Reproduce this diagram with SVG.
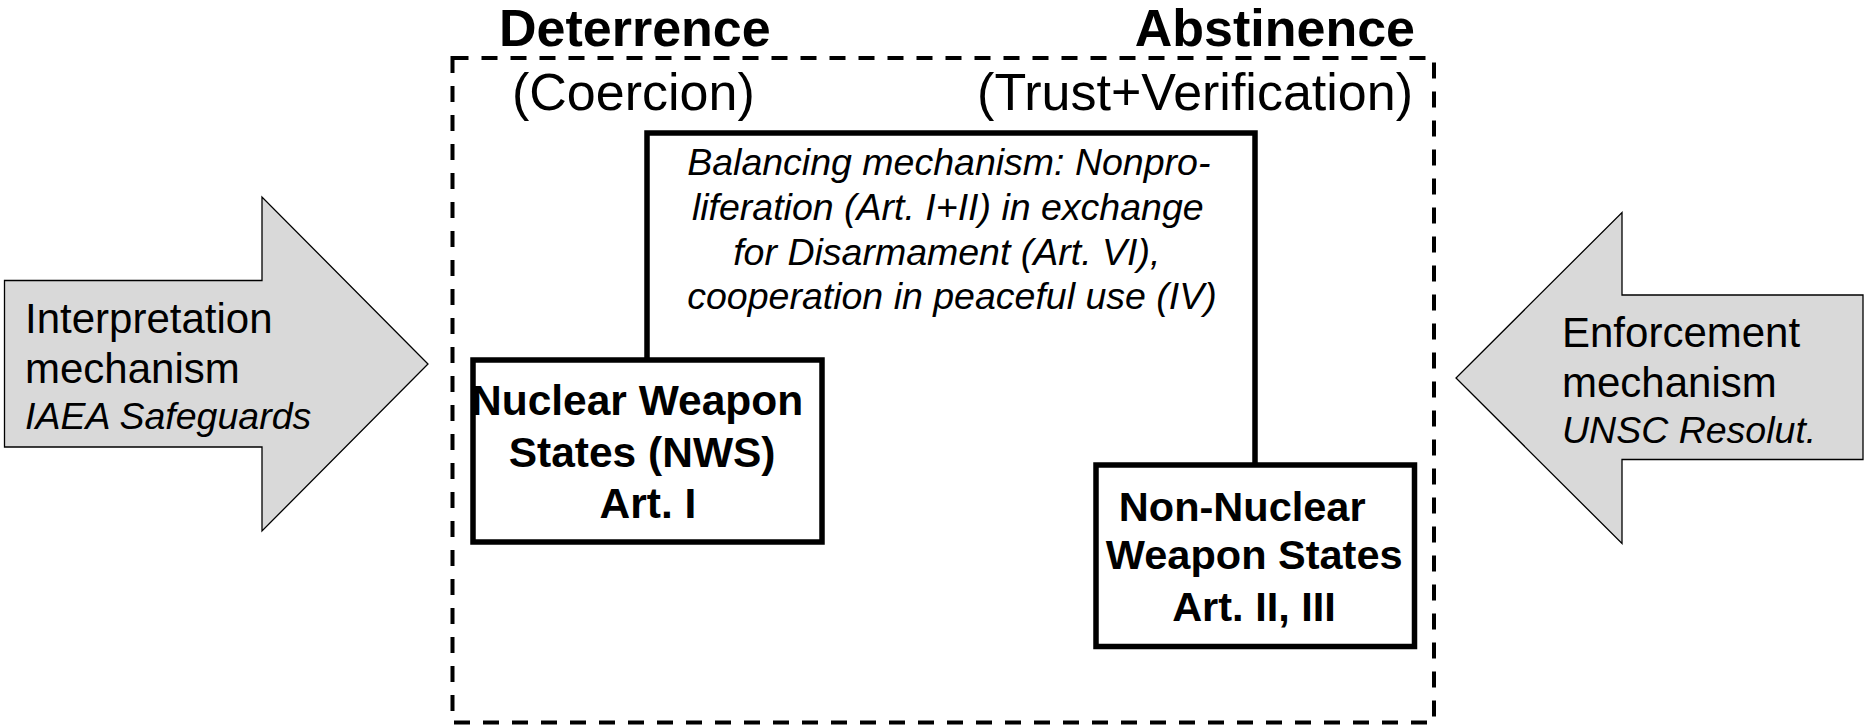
<svg xmlns="http://www.w3.org/2000/svg" width="1864" height="728" viewBox="0 0 1864 728">
<style>
.t{font-family:"Liberation Sans",Arial,sans-serif;fill:#000}
.b{font-weight:bold}
.i{font-style:italic}
.arrow{fill:#d9d9d9;stroke:#000;stroke-width:1.3}
.box{fill:#fff;stroke:#000;stroke-width:5.5}
.frame{fill:none;stroke:#000;stroke-width:4;stroke-dasharray:16 13}
.conn{fill:none;stroke:#000;stroke-width:5.5}
</style>
<rect width="1864" height="728" fill="#fff"/>
<g id="frame">
  <rect class="frame" x="452.5" y="58" width="981.5" height="664.5"/>
  <text class="t b" x="499" y="46" font-size="52">Deterrence</text>
  <text class="t b" x="1415" y="46" font-size="52" text-anchor="end">Abstinence</text>
  <text class="t" x="512" y="110" font-size="52">(Coercion)</text>
  <text class="t" x="1413" y="110" font-size="52" text-anchor="end">(Trust+Verification)</text>
</g>
<g id="connectors">
  <path class="conn" d="M647,358 V133 H1255 V464"/>
</g>
<g id="balancing">
  <text class="t i" font-size="37.5" text-anchor="middle">
    <tspan x="954" y="175">Balancing mechanism: Nonpro-</tspan>
    <tspan x="953" y="220">liferation (Art. I+II) in exchange</tspan>
    <tspan x="952" y="265">for Disarmament (Art. VI),</tspan>
    <tspan x="952" y="309">cooperation in peaceful use (IV)</tspan>
  </text>
</g>
<g id="nws">
  <rect class="box" x="473" y="360" width="349" height="182"/>
  <text class="t b" font-size="42.5" text-anchor="middle">
    <tspan x="643" y="415">Nuclear Weapon</tspan>
    <tspan x="648" y="467">States (NWS)</tspan>
    <tspan x="648" y="518">Art. I</tspan>
  </text>
</g>
<g id="nnws">
  <rect class="box" x="1096" y="465" width="318.5" height="181.5"/>
  <text class="t b" font-size="41.5" text-anchor="middle">
    <tspan x="1248" y="521">Non-Nuclear</tspan>
    <tspan x="1260" y="569">Weapon States</tspan>
    <tspan x="1254" y="621">Art. II, III</tspan>
  </text>
</g>
<g id="interpretation">
  <polygon class="arrow" points="4.5,280.5 262,280.5 262,197 428,364 262,531 262,447 4.5,447"/>
  <text class="t" font-size="42">
    <tspan x="25" y="333">Interpretation</tspan>
    <tspan x="25" y="383">mechanism</tspan>
  </text>
  <text class="t i" font-size="37.5" x="25" y="429">IAEA Safeguards</text>
</g>
<g id="enforcement">
  <polygon class="arrow" points="1863,295 1622,295 1622,212.5 1456,378 1622,543.5 1622,459.5 1863,459.5"/>
  <text class="t" font-size="42">
    <tspan x="1562" y="347">Enforcement</tspan>
    <tspan x="1562" y="397">mechanism</tspan>
  </text>
  <text class="t i" font-size="37.5" x="1562" y="443">UNSC Resolut.</text>
</g>
</svg>
